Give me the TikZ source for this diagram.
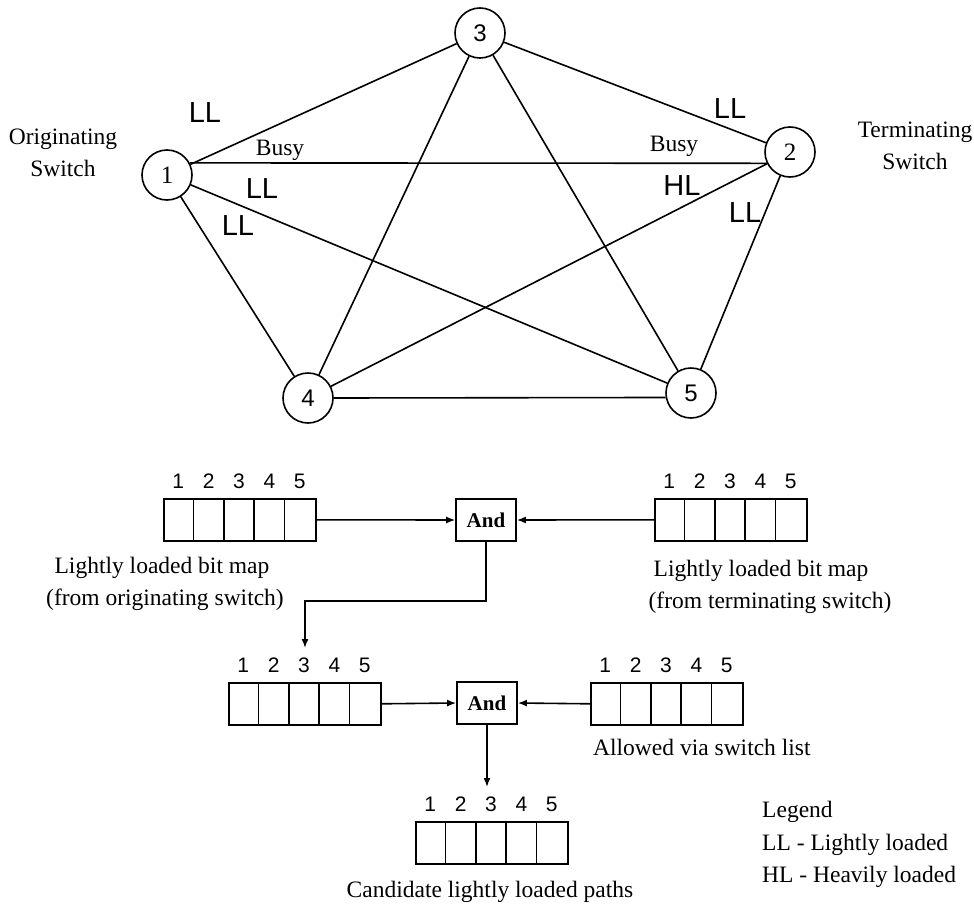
\documentclass[tikz,border=0pt]{standalone}
\usepackage{fontspec}
\setmainfont{Liberation Serif}
\newfontfamily\lsans{Liberation Sans}
\usetikzlibrary{arrows.meta}
\newcommand{\bitmapbox}[3]{%
  \node[bm] (#1) at (#2,#3) {};
  \foreach \i in {1,...,4} \draw[conn] ([xshift=\i*30.4pt]#1.south west) -- ([xshift=\i*30.4pt]#1.north west);
  \foreach \i in {1,...,5} \node[num,anchor=base] (#1n\i) at ([xshift=\i*30.4pt-15.2pt,yshift=10pt]#1.north west) {\i};
}
\begin{document}
\begin{tikzpicture}[x=1pt,y=-1pt,
  sw/.style={circle,draw,line width=1.6pt,minimum size=50pt,inner sep=0pt},
  swser/.style={font=\fontsize{25}{28}\selectfont},
  swsans/.style={font=\lsans\fontsize{24}{28}\selectfont},
  lbl/.style={font=\fontsize{23.5}{32}\selectfont,inner sep=0pt},
  ld/.style={font=\lsans\fontsize{29}{32}\selectfont,inner sep=0pt},
  num/.style={font=\lsans\fontsize{21}{24}\selectfont,inner sep=0pt},
  bm/.style={draw,line width=1.6pt,minimum width=152pt,minimum height=42pt,inner sep=0pt,anchor=north west},
  andbox/.style={draw,line width=1.6pt,minimum width=60pt,minimum height=42pt,inner sep=0pt,font=\bfseries\fontsize{21}{24}\selectfont},
  conn/.style={line width=1.6pt},
  arr/.style={line width=1.6pt,-{Latex[length=9pt,width=7pt]}},
]
\useasboundingbox (0,0) rectangle (974,910);

% switches
\node[sw,swser] (n1) at (167,175) {1};
\node[sw,swser] (n2) at (790,152) {2};
\node[sw,swsans] (n3) at (480,33) {3};
\node[sw,swsans] (n4) at (308,398) {4};
\node[sw,swsans] (n5) at (691,393) {5};

% links
\draw[conn] (n1) -- (n3);
\draw[conn] (n1.28) -- (n2.206);
\draw[conn] (n1) -- (n5);
\draw[conn] (n1) -- (n4);
\draw[conn] (n3) -- (n2);
\draw[conn] (n3) -- (n4);
\draw[conn] (n3) -- (n5);
\draw[conn] (n2) -- (n4);
\draw[conn] (n2) -- (n5);
\draw[conn] (n4.east) -- (n5.190);

% link labels
\node[ld] (l13) at (205,113) {LL};
\node[lbl] (b1) at (280,150) {Busy};
\node[ld] (l15) at (262,189) {LL};
\node[ld] (l14) at (238,226) {LL};
\node[ld] (l32) at (730,109) {LL};
\node[lbl] (b2) at (674,146) {Busy};
\node[ld] (h24) at (682,186) {HL};
\node[ld] (l25) at (745,213) {LL};

\node[lbl,align=center] (orig) at (63,153) {Originating\\Switch};
\node[lbl,align=center] (term) at (915,146) {Terminating\\Switch};

% bit maps
\bitmapbox{bm1}{163}{498}
\bitmapbox{bm2}{654}{498}
\bitmapbox{bm3}{228}{682}
\bitmapbox{bm4}{590}{682}
\bitmapbox{bm5}{415}{821}

\node[andbox] (and1) at (486,520) {And};
\node[andbox] (and2) at (487,703) {And};

\draw[arr] (bm1.east) -- (and1.west);
\draw[arr] (bm2.west) -- (and1.east);
\coordinate (t3) at (305,648);
\draw[arr] (and1.south) -- ++(0,59) -| (t3);
\draw[arr] (bm3.east) -- (and2.west);
\draw[arr] (bm4.west) -- (and2.east);
\coordinate (t5) at (487,787);
\draw[arr] (and2.south) -- (t5);

% captions
\node[lbl] (c1a) at (162,568) {Lightly loaded bit map};
\node[lbl] (c1b) at (165,600) {(from originating switch)};
\node[lbl] (c2a) at (761,571) {Lightly loaded bit map};
\node[lbl] (c2b) at (770,603) {(from terminating switch)};
\node[lbl,anchor=west] (c4) at (593,747) {Allowed via switch list};
\node[lbl] (c5) at (490,892) {Candidate lightly loaded paths};

% legend
\node[lbl,anchor=west] (lg0) at (762,812) {Legend};
\node[lbl,anchor=west] (lg1) at (762,845) {LL - Lightly loaded};
\node[lbl,anchor=west] (lg2) at (762,877) {HL - Heavily loaded};
\end{tikzpicture}
\end{document}
